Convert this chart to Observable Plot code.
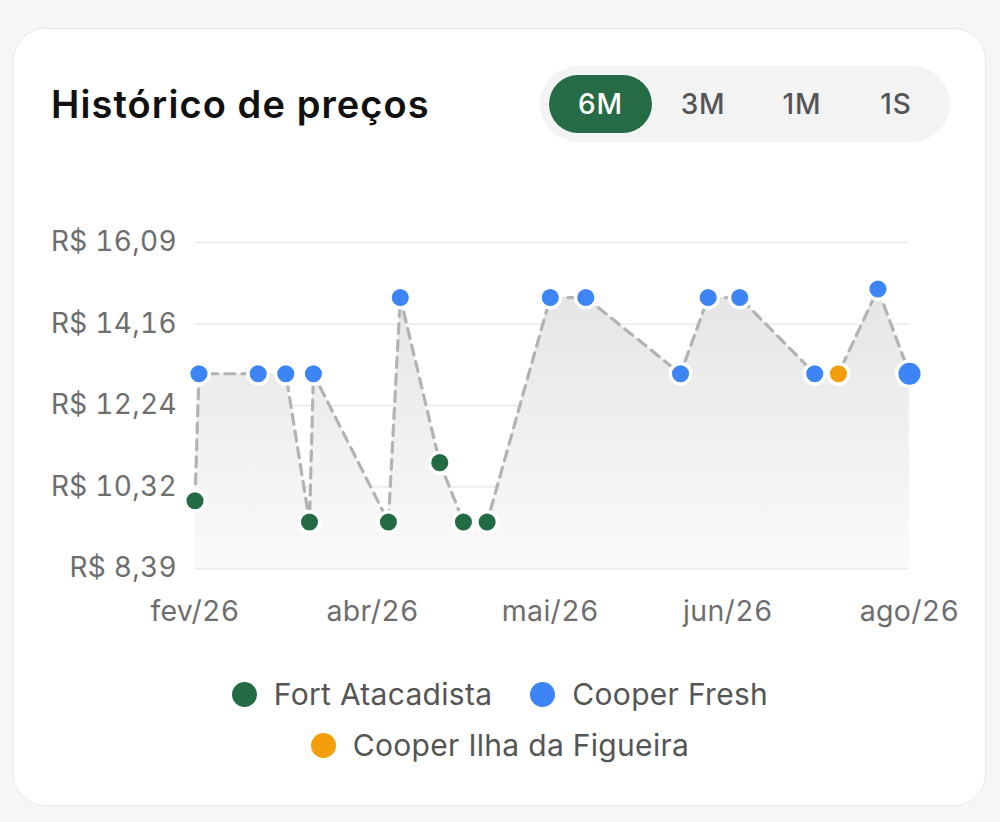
<!DOCTYPE html>
<html lang="pt-BR"><head><meta charset="utf-8">
<script src="https://cdn.jsdelivr.net/npm/d3@7"></script>
<script src="https://cdn.jsdelivr.net/npm/@observablehq/plot@0.6"></script>
<style>
html,body{margin:0;padding:0}
body{width:1000px;height:822px;background:#f6f6f6;position:relative;overflow:hidden;font-family:Inter,"Noto Sans",sans-serif}
.card{position:absolute;left:13px;top:28px;width:973px;height:778px;background:#fff;border:1px solid #e8e8e8;border-radius:32px;box-sizing:border-box}
.title{position:absolute;left:51px;top:79px;font-size:38px;font-weight:600;color:#111;letter-spacing:1.1px;line-height:50px;white-space:nowrap}
.seg{position:absolute;left:540px;top:66px;width:410px;height:76px;border-radius:38px;background:#f3f3f3}
.seg div{position:absolute;top:9px;height:58px;border-radius:29px;font-size:28px;font-weight:500;letter-spacing:0.8px;color:#555;display:flex;align-items:center;justify-content:center}
.seg div.on{background:#256b45;color:#fff}
#chart{position:absolute;left:0;top:200px}
.legend{position:absolute;left:0;width:1000px;display:flex;justify-content:center;gap:38px;font-size:30px;letter-spacing:0.3px;color:#555;white-space:nowrap}
.legend span{display:flex;align-items:center}
.legend i{display:inline-block;width:25px;height:25px;border-radius:50%;margin-right:17px}
</style></head>
<body>
<div class="card"></div>
<div class="title">Histórico de preços</div>
<div class="seg" id="seg"></div>
<div id="chart"></div>
<div id="legend"></div>
<script>
// ---- data ----
const periods = ["6M", "3M", "1M", "1S"];
const dates = ["2026-02-01","2026-02-02","2026-02-17","2026-02-24","2026-03-02","2026-03-03","2026-03-22","2026-03-25","2026-04-04","2026-04-10","2026-04-16","2026-05-02","2026-05-11","2026-06-04","2026-06-11","2026-06-19","2026-07-08","2026-07-14","2026-07-24","2026-08-01"];
const prices = [9.99,12.99,12.99,12.99,9.49,12.99,9.49,14.79,10.89,9.49,9.49,14.79,14.79,12.99,14.79,14.79,12.99,12.99,14.99,12.99];
const stores = ["Fort Atacadista","Cooper Fresh","Cooper Fresh","Cooper Fresh","Fort Atacadista","Cooper Fresh","Fort Atacadista","Cooper Fresh","Fort Atacadista","Fort Atacadista","Fort Atacadista","Cooper Fresh","Cooper Fresh","Cooper Fresh","Cooper Fresh","Cooper Fresh","Cooper Fresh","Cooper Ilha da Figueira","Cooper Fresh","Cooper Fresh"];
const storeNames = ["Fort Atacadista","Cooper Fresh","Cooper Ilha da Figueira"];
const storeColors = ["#236b45","#3d84f5","#f59e0b"];
const yTicks = [8.39, 10.32, 12.24, 14.16, 16.09];
const xTicks = ["2026-02-01","2026-03-18","2026-05-02","2026-06-16","2026-08-01"];
const xTickLabels = ["fev/26","abr/26","mai/26","jun/26","ago/26"];

// ---- segmented control ----
const seg = document.getElementById("seg");
const segX = [9, 112, 214, 310], segW = [103, 102, 96, 92];
periods.forEach((p, i) => {
  const d = document.createElement("div");
  d.textContent = p;
  d.style.left = segX[i] + "px"; d.style.width = segW[i] + "px";
  if (i === 0) d.className = "on";
  seg.appendChild(d);
});

// ---- chart ----
const data = dates.map((d, i) => ({date: new Date(d + "T00:00:00"), price: prices[i], store: stores[i]}));
const last = data.length - 1;
const xTickDates = xTicks.map(d => new Date(d + "T00:00:00"));
const labelOf = new Map(xTickDates.map((d, i) => [+d, xTickLabels[i]]));
const yMin = yTicks[0], yMax = yTicks[yTicks.length - 1];

const defs = () => {
  const g = d3.create("svg:defs");
  const lg = g.append("linearGradient").attr("id", "areaGrad").attr("x1", 0).attr("x2", 0).attr("y1", 0).attr("y2", 1);
  lg.append("stop").attr("offset", "0%").attr("stop-color", "#e5e5e5");
  lg.append("stop").attr("offset", "100%").attr("stop-color", "#fafafa");
  return g.node();
};

const chart = Plot.plot({
  width: 1000,
  height: 430,
  marginLeft: 194.5,
  marginRight: 91,
  marginTop: 42,
  marginBottom: 62,
  style: {fontFamily: "Inter, 'Noto Sans', sans-serif", color: "#6e6e6e", background: "transparent", overflow: "visible", letterSpacing: "0.3px"},
  x: {type: "time", domain: [data[0].date, data[last].date], label: null},
  y: {domain: [yMin, yMax], label: null},
  color: {domain: storeNames, range: storeColors},
  marks: [
    defs,
    Plot.gridY(yTicks, {stroke: "#eeeeee", strokeOpacity: 1, strokeWidth: 2, x1: data[0].date, x2: data[last].date}),
    Plot.areaY(data, {x: "date", y1: yMin, y2: "price", fill: "url(#areaGrad)"}),
    Plot.line(data, {x: "date", y: "price", stroke: "#b3b3b3", strokeWidth: 3.2, strokeDasharray: "10,7"}),
    Plot.dot(data, {filter: (d, i) => i !== last, x: "date", y: "price", fill: "store", stroke: "white", strokeWidth: 3.5, r: 10.3}),
    Plot.dot(data, {filter: (d, i) => i === last, x: "date", y: "price", fill: "store", stroke: "white", strokeWidth: 3.5, r: 12.8}),
    Plot.axisY({ticks: yTicks, tickSize: 0, tickPadding: 18, fontSize: 28, label: null, tickFormat: d => "R$ " + d.toFixed(2).replace(".", ",")}),
    Plot.axisX({ticks: xTickDates, tickSize: 0, tickPadding: 32, fontSize: 28.5, label: null, tickFormat: d => labelOf.get(+d)})
  ]
});
document.getElementById("chart").appendChild(chart);

// ---- legend ----
const leg = document.getElementById("legend");
const rows = [[0, 1], [2]];
const rowTop = [676, 727];
rows.forEach((r, ri) => {
  const row = document.createElement("div");
  row.className = "legend";
  row.style.top = rowTop[ri] + "px";
  r.forEach(k => {
    const s = document.createElement("span");
    s.innerHTML = `<i style="background:${storeColors[k]}"></i>${storeNames[k]}`;
    row.appendChild(s);
  });
  leg.appendChild(row);
});
</script>
</body></html>
